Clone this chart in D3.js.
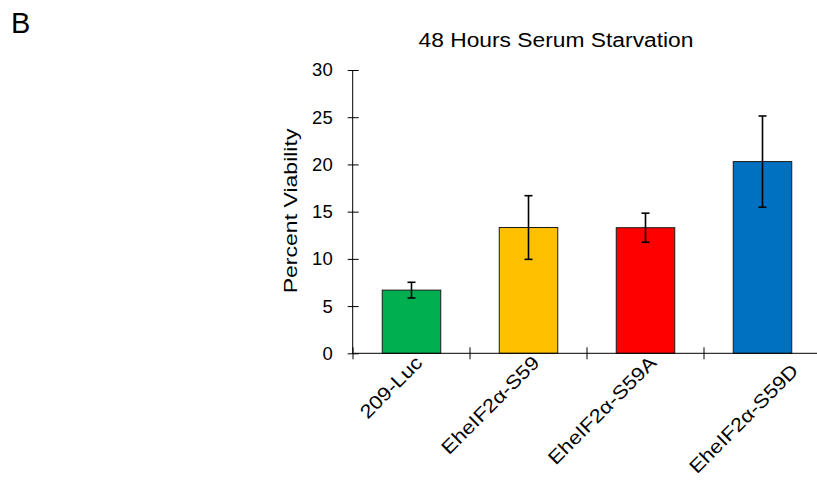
<!DOCTYPE html>
<html>
<head>
  <script src="https://d3js.org/d3.v7.min.js"></script>
  <style>
    body { margin: 0; background: #fff; }
    text { font-family: "Liberation Sans", Arial, sans-serif; fill: #000; }
  </style>
</head>
<body>
  <div id="chart"></div>
  <script>
    // values
    const categories = ["209-Luc", "EheIF2α-S59", "EheIF2α-S59A", "EheIF2α-S59D"];
    const means = [6.69, 13.32, 13.30, 20.30];
    const errors = [0.83, 3.37, 1.54, 4.83];
    const colors = ["#00b050", "#ffc000", "#ff0000", "#0070c0"];
    const yTicks = [0, 5, 10, 15, 20, 25, 30];

    const data = categories.map((c, i) => ({ name: c, mean: means[i], err: errors[i], color: colors[i] }));

    const svg = d3.select("#chart")
      .append("svg")
      .attr("width", 817)
      .attr("height", 480);

    // scales
    const x = d3.scaleBand()
      .domain(categories)
      .range([353, 821])
      .paddingInner(0.5)
      .paddingOuter(0.25);

    const y = d3.scaleLinear()
      .domain([0, 30])
      .range([353.3, 70]);

    // stretch text a bit, the source figure is wider than plain Arial
    function stretch(sel, k) {
      sel.each(function() {
        const len = this.getComputedTextLength();
        d3.select(this).attr("textLength", len * k).attr("lengthAdjust", "spacingAndGlyphs");
      });
    }

    // panel letter
    svg.append("text")
      .attr("x", 11)
      .attr("y", 33)
      .style("font-size", "29px")
      .text("B");

    // title
    svg.append("text")
      .attr("x", 556)
      .attr("y", 46.5)
      .attr("text-anchor", "middle")
      .style("font-size", "20px")
      .text("48 Hours Serum Starvation")
      .call(stretch, 1.14);

    // y axis
    const yAxis = svg.append("g")
      .attr("transform", "translate(352.7,0)")
      .call(d3.axisLeft(y).tickValues(yTicks).tickSizeOuter(0).tickPadding(14));
    yAxis.select(".domain").attr("stroke", "#000").attr("d", "M0," + y(30) + "V" + y(0));
    yAxis.selectAll(".tick line").attr("x1", -5).attr("x2", 6).attr("stroke", "#000");
    yAxis.selectAll(".tick text")
      .style("font-size", "18.5px")
      .attr("font-family", null);

    // y label
    svg.append("text")
      .attr("transform", "translate(297,211) rotate(-90)")
      .attr("text-anchor", "middle")
      .style("font-size", "18px")
      .text("Percent Viability")
      .call(stretch, 1.28);

    // bars
    svg.selectAll(".bar")
      .data(data)
      .enter().append("rect")
      .attr("class", "bar")
      .attr("x", d => x(d.name))
      .attr("y", d => y(d.mean))
      .attr("width", x.bandwidth())
      .attr("height", d => y(0) - y(d.mean))
      .attr("fill", d => d.color)
      .attr("stroke", "#1a1a1a")
      .attr("stroke-width", 1);

    // error bars
    const eb = svg.selectAll(".err")
      .data(data)
      .enter().append("g")
      .attr("class", "err")
      .attr("stroke", "#000")
      .attr("stroke-width", 1.6);
    const cx = d => x(d.name) + x.bandwidth() / 2;
    eb.append("line")
      .attr("x1", cx).attr("x2", cx)
      .attr("y1", d => y(d.mean + d.err))
      .attr("y2", d => y(d.mean - d.err));
    eb.append("line")
      .attr("x1", d => cx(d) - 4).attr("x2", d => cx(d) + 4)
      .attr("y1", d => y(d.mean + d.err)).attr("y2", d => y(d.mean + d.err));
    eb.append("line")
      .attr("x1", d => cx(d) - 4).attr("x2", d => cx(d) + 4)
      .attr("y1", d => y(d.mean - d.err)).attr("y2", d => y(d.mean - d.err));

    // x axis line and tick marks at category boundaries
    const gap = (x.step() - x.bandwidth()) / 2;
    const bounds = categories.map(c => x(c) - gap).concat([x(categories[categories.length - 1]) + x.bandwidth() + gap]);
    svg.append("line")
      .attr("x1", 352.7).attr("x2", 821)
      .attr("y1", y(0)).attr("y2", y(0))
      .attr("stroke", "#000");
    svg.selectAll(".xtick")
      .data(bounds)
      .enter().append("line")
      .attr("class", "xtick")
      .attr("x1", d => d).attr("x2", d => d)
      .attr("y1", y(0) - 6).attr("y2", y(0) + 6)
      .attr("stroke", "#000");

    // rotated category labels
    svg.selectAll(".xlabel")
      .data(data)
      .enter().append("text")
      .attr("class", "xlabel")
      .attr("text-anchor", "end")
      .style("font-size", "19px")
      .attr("transform", (d, i) => {
        const last = i === data.length - 1;
        const px = cx(d) + (last ? 37 : 12);
        const py = last ? 372 : 364;
        return "translate(" + px + "," + py + ") rotate(-45)";
      })
      .text(d => d.name)
      .call(stretch, 1.15);
  </script>
</body>
</html>
